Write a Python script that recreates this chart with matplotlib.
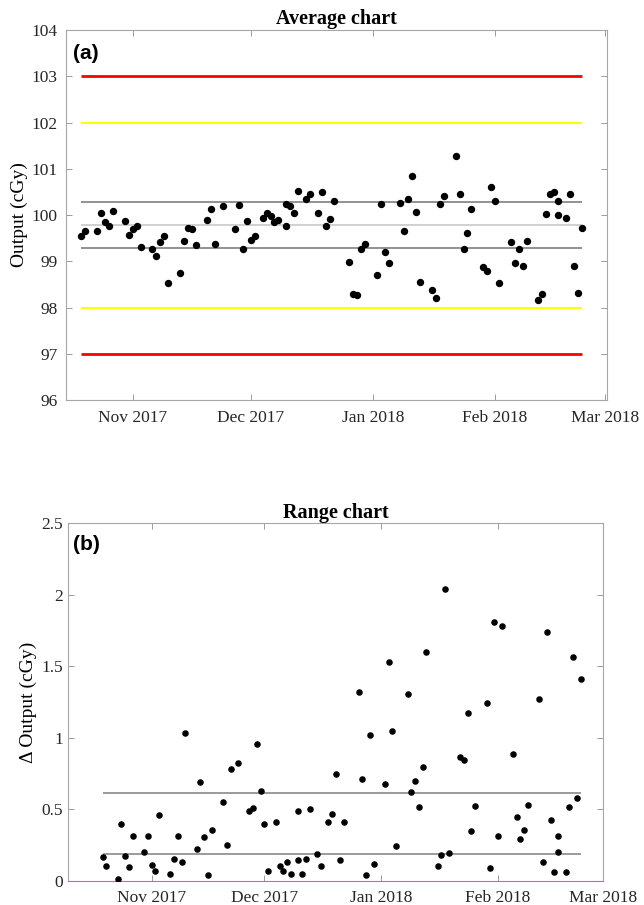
import numpy as np
import matplotlib
matplotlib.use('Agg')
import matplotlib.pyplot as plt
import matplotlib.dates as mdates

# measurement days, counted from 1 Oct 2017
days = [18, 19, 22, 23, 24, 25, 26, 29, 30, 31, 32, 33, 36, 37, 38, 39, 40,
        43, 44, 45, 46, 47, 50, 51, 52, 54, 57, 58, 59, 60, 61, 62, 64, 65,
        66, 67, 68, 70, 70, 71, 72, 73, 75, 76, 78, 79, 80, 81, 82, 86, 87,
        88, 89, 90, 93, 94, 95, 96, 99, 100, 101, 102, 103, 104, 107, 108,
        109, 110, 113, 114, 115, 116, 117, 120, 121, 122, 123, 124, 127, 128,
        129, 130, 131, 134, 135, 136, 137, 138, 139, 139, 141, 142, 143, 144,
        145]

avg_output = [99.55, 99.65, 99.65, 100.04, 99.86, 99.77, 100.09, 99.88, 99.57,
              99.69, 99.76, 99.30, 99.26, 99.11, 99.42, 99.55, 98.52, 98.74,
              99.44, 99.73, 99.70, 99.35, 99.89, 100.13, 99.37, 100.19, 99.69,
              100.21, 99.26, 99.88, 99.47, 99.54, 99.94, 100.05, 99.98, 99.84,
              99.89, 99.76, 100.23, 100.19, 100.04, 100.53, 100.34, 100.45,
              100.05, 100.50, 99.76, 99.91, 100.30, 98.99, 98.29, 98.26, 99.27,
              99.38, 98.71, 100.23, 99.20, 98.96, 100.26, 99.65, 100.34, 100.84,
              100.06, 98.55, 98.37, 98.21, 100.23, 100.42, 101.28, 100.45, 99.26,
              99.61, 100.12, 98.88, 98.80, 100.61, 100.30, 98.53, 99.41, 98.96,
              99.26, 98.90, 99.43, 98.16, 98.30, 100.03, 100.45, 100.50, 100.30,
              100.00, 99.94, 100.45, 98.90, 98.32, 99.71]

range_output = [0.168, 0.105, 0.012, 0.399, 0.173, 0.098, 0.315, 0.203, 0.313,
                0.112, 0.070, 0.457, 0.047, 0.152, 0.315, 0.131, 1.033, 0.224,
                0.693, 0.308, 0.040, 0.357, 0.553, 0.247, 0.781, 0.826, 0.490,
                0.510, 0.956, 0.627, 0.399, 0.065, 0.408, 0.100, 0.071, 0.132,
                0.050, 0.485, 0.145, 0.047, 0.150, 0.500, 0.187, 0.103, 0.408,
                0.466, 0.746, 0.146, 0.408, 1.318, 0.709, 0.040, 1.019, 0.119,
                0.675, 1.527, 1.046, 0.245, 1.304, 0.617, 0.700, 0.513, 0.793,
                1.602, 0.103, 0.177, 2.038, 0.191, 0.865, 0.844, 1.173, 0.348,
                0.520, 1.245, 0.089, 1.812, 0.310, 1.779, 0.884, 0.446, 0.289,
                0.357, 0.530, 1.269, 0.131, 1.738, 0.425, 0.060, 0.315, 0.203,
                0.059, 0.515, 1.567, 0.576, 1.408]

# control limits
avg_ucl, avg_cl, avg_lcl = 100.28, 99.78, 99.29
avg_warn = [102, 98]
avg_action = [103, 97]
r_ucl, r_bar = 0.61, 0.187

month_ticks = np.array(['2017-11-01', '2017-12-01', '2018-01-01',
                        '2018-02-01', '2018-03-01'], dtype='datetime64[D]')

dates = np.datetime64('2017-10-01') + np.array(days).astype('timedelta64[D]')

plt.rcParams['font.family'] = 'Liberation Serif'

fig = plt.figure(figsize=(6.44, 9.05), dpi=100)
ax1 = fig.add_axes([0.1025, 0.558, 0.840, 0.4088])
ax2 = fig.add_axes([0.106, 0.0269, 0.8307, 0.395])


def style(ax, ypad):
    for s in ax.spines.values():
        s.set_color('#a6a6a6')
        s.set_linewidth(0.8)
    ax.tick_params(direction='in', length=4, width=0.6, color='#8c8c8c',
                   top=True, right=True, labelsize=12.5, labelcolor='#262626')
    ax.tick_params(axis='x', pad=7)
    ax.tick_params(axis='y', pad=ypad)
    ax.set_xticks(month_ticks)
    ax.xaxis.set_major_formatter(mdates.DateFormatter('%b %Y'))


# average chart
for y in avg_action:
    ax1.hlines(y, dates[0], dates[-1], color='#ff0000', lw=2)
for y in avg_warn:
    ax1.hlines(y, dates[0], dates[-1], color='#ffff00', lw=1.5)
ax1.hlines([avg_ucl, avg_lcl], dates[0], dates[-1], color='#7f7f7f', lw=1.2)
ax1.hlines(avg_cl, dates[0], dates[-1], color='#c8c8c8', lw=1.2)
ax1.plot(dates, avg_output, 'o', color='black', ms=4.3, zorder=5)

ax1.set_ylim(96, 104)
ax1.set_yticks(range(96, 105))
ax1.set_xlim(np.datetime64('2017-10-15T02:00'), np.datetime64('2018-03-01T10:00'))
style(ax1, 6)
ax1.set_title('Average chart', fontweight='bold', fontsize=14.5, pad=4)
ax1.set_ylabel('Output (cGy)', fontsize=14)
ax1.yaxis.set_label_coords(-0.07, 0.5)
ax1.text(0.0135, 0.962, '(a)', transform=ax1.transAxes, family='Liberation Sans',
         fontweight='bold', fontsize=15, va='top')

# range chart
ax2.hlines([r_ucl, r_bar], dates[0], dates[-1], color='#8a8a8a', lw=1.2)
ax2.plot(dates, range_output, 'o', color='black', ms=3.7, zorder=5)

ax2.set_ylim(0, 2.5)
ax2.set_yticks([0, 0.5, 1, 1.5, 2, 2.5])
ax2.set_yticklabels(['0', '0.5', '1', '1.5', '2', '2.5'])
ax2.set_xlim(np.datetime64('2017-10-09T21:00'), np.datetime64('2018-03-01T00:00'))
style(ax2, 4)
ax2.spines['bottom'].set_color('#9c7f9c')
ax2.set_title('Range chart', fontweight='bold', fontsize=14.5, pad=4)
ax2.set_ylabel('Δ Output (cGy)', fontsize=14)
ax2.yaxis.set_label_coords(-0.058, 0.5)
ax2.text(0.008, 0.967, '(b)', transform=ax2.transAxes, family='Liberation Sans',
         fontweight='bold', fontsize=15, va='top')

fig.savefig('out.png', dpi=100)
